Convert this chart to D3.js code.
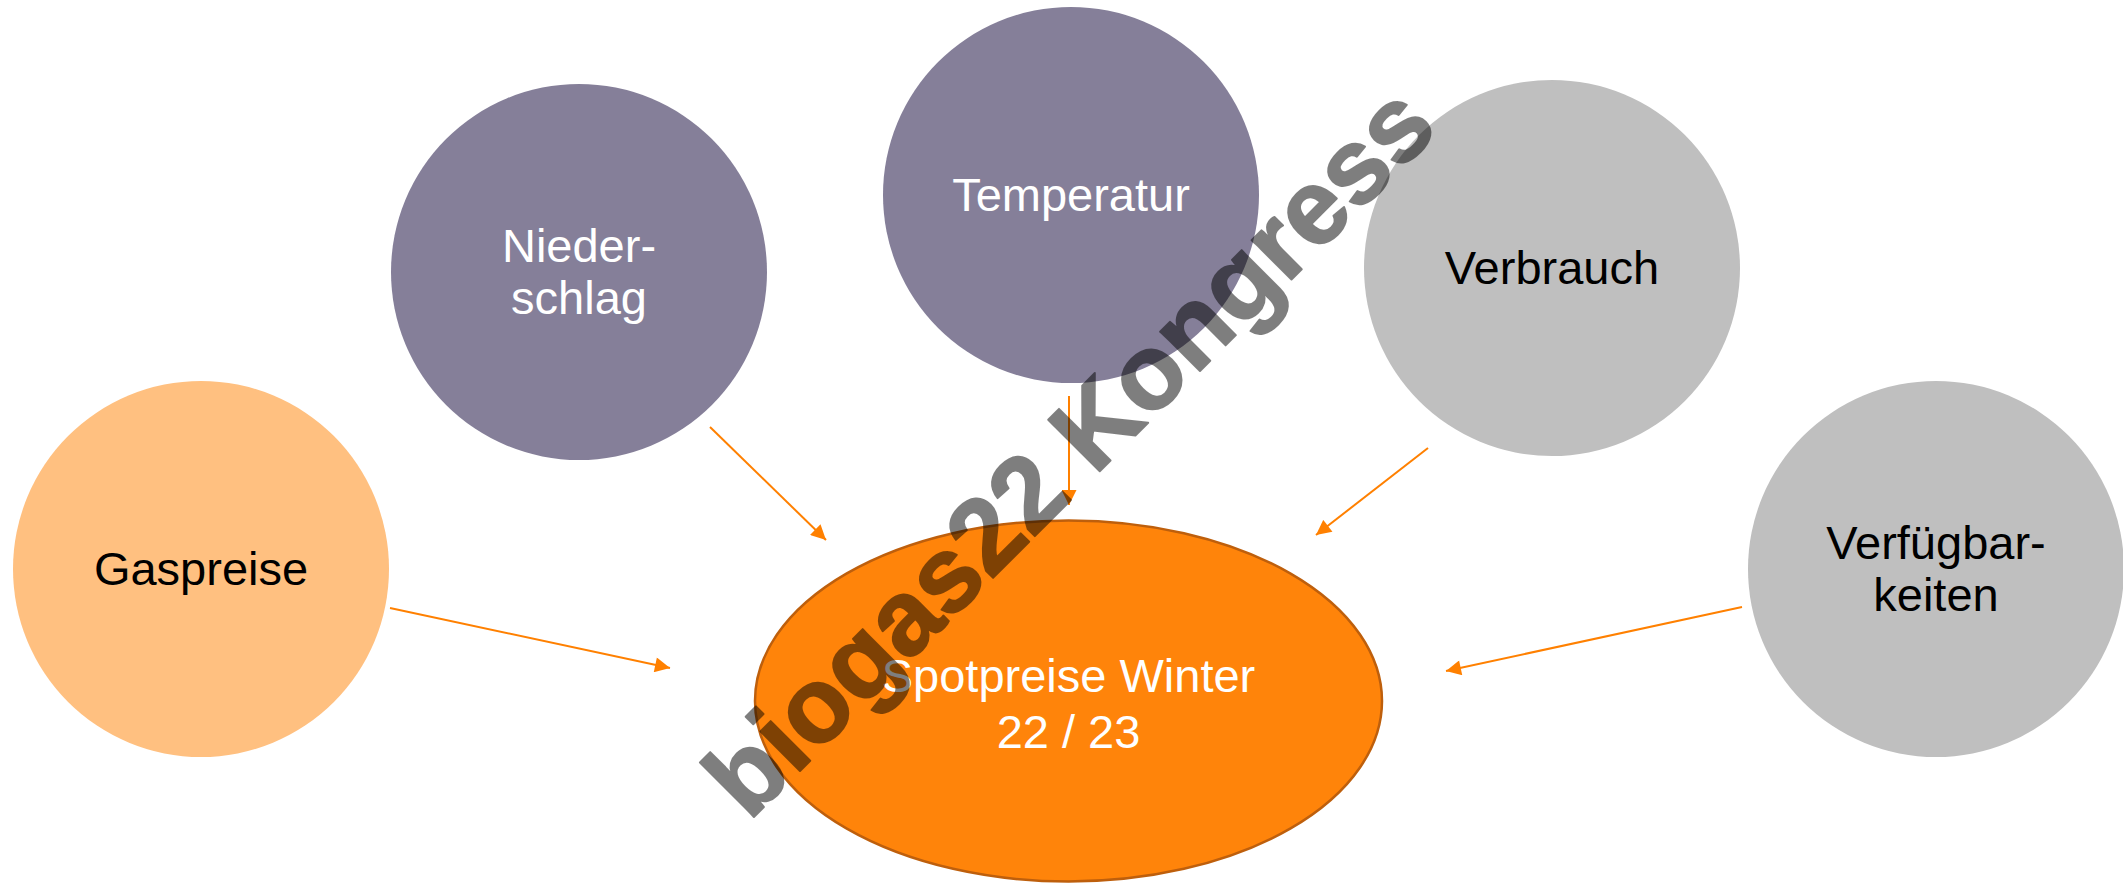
<!DOCTYPE html>
<html>
<head>
<meta charset="utf-8">
<script src="https://cdn.jsdelivr.net/npm/d3@7"></script>
<style>
  html, body { margin: 0; padding: 0; background: #fff; }
  svg { display: block; }
  text { font-family: "Liberation Sans", Arial, sans-serif; }
</style>
</head>
<body>
<svg id="chart" width="2123" height="883"></svg>
<script>
// content of the diagram
var factors = ["Gaspreise", "Nieder-\nschlag", "Temperatur", "Verbrauch", "Verfügbar-\nkeiten"];
var factorGroups = ["gas", "weather", "weather", "demand", "demand"];
var targetLabel = ["Spotpreise Winter", "22 / 23"];
var watermark = "biogas22 Kongress";

// layout (pixel positions)
var layout = {
  "Gaspreise":        {cx: 201,  cy: 569, ax1: 390,  ay1: 608, ax2: 670,  ay2: 668},
  "Nieder-\nschlag":  {cx: 579,  cy: 272, ax1: 710,  ay1: 427, ax2: 826,  ay2: 540},
  "Temperatur":       {cx: 1071, cy: 195, ax1: 1069, ay1: 396, ax2: 1069, ay2: 505},
  "Verbrauch":        {cx: 1552, cy: 268, ax1: 1428, ay1: 448, ax2: 1316, ay2: 535},
  "Verfügbar-\nkeiten": {cx: 1936, cy: 569, ax1: 1742, ay1: 607, ax2: 1446, ay2: 671}
}
var target = {cx: 1068.5, cy: 701, rx: 313.5, ry: 180.5}
var radius = 188

var fill = d3.scaleOrdinal()
  .domain(["gas", "weather", "demand"])
  .range(["#FFC080", "#857F99", "#BFBFBF"])
var ink = d3.scaleOrdinal()
  .domain(["gas", "weather", "demand"])
  .range(["#000000", "#ffffff", "#000000"])

var svg = d3.select("#chart")

svg.append("defs").append("marker")
    .attr("id", "head")
    .attr("viewBox", "0 0 16 16")
    .attr("refX", 16)
    .attr("refY", 8)
    .attr("markerWidth", 16)
    .attr("markerHeight", 15)
    .attr("markerUnits", "userSpaceOnUse")
    .attr("orient", "auto")
  .append("path")
    .attr("d", "M0,0L16,8L0,16Z")
    .attr("fill", "#FF8000")

var nodes = factors.map(function(f, i) {
  return {label: f, group: factorGroups[i], pos: layout[f]}
})

// circles
var g = svg.append("g")
g.selectAll("circle")
  .data(nodes)
  .enter().append("circle")
    .attr("cx", function(d) { return d.pos.cx })
    .attr("cy", function(d) { return d.pos.cy })
    .attr("r", radius)
    .attr("fill", function(d) { return fill(d.group) })

// central ellipse
svg.append("ellipse")
  .attr("cx", target.cx)
  .attr("cy", target.cy)
  .attr("rx", target.rx)
  .attr("ry", target.ry)
  .attr("fill", "#FF840A")
  .attr("stroke", "#BE5F0C")
  .attr("stroke-width", 2.5)

// arrows
svg.append("g").selectAll("line")
  .data(nodes)
  .enter().append("line")
    .attr("x1", function(d) { return d.pos.ax1 })
    .attr("y1", function(d) { return d.pos.ay1 })
    .attr("x2", function(d) { return d.pos.ax2 })
    .attr("y2", function(d) { return d.pos.ay2 })
    .attr("stroke", "#FF8000")
    .attr("stroke-width", 2)
    .attr("marker-end", "url(#head)")

function multiline(sel, lines, cx, cy, lh, off) {
  var first = cy + off - (lines.length - 1) * lh / 2
  lines.forEach(function(l, i) {
    sel.append("tspan")
      .attr("x", cx)
      .attr("y", first + i * lh)
      .text(l)
  })
}

// labels
g.selectAll("text")
  .data(nodes)
  .enter().append("text")
    .attr("text-anchor", "middle")
    .attr("font-size", 47)
    .attr("fill", function(d) { return ink(d.group) })
    .each(function(d) {
      multiline(d3.select(this), d.label.split("\n"), d.pos.cx, d.pos.cy, 52, 16)
    })

var tt = svg.append("text")
  .attr("text-anchor", "middle")
  .attr("font-size", 47)
  .attr("fill", "#fff")
multiline(tt, targetLabel, target.cx, target.cy, 56, 19)

// watermark (half transparent black over everything)
svg.append("g")
  .attr("opacity", 0.5)
  .append("text")
    .attr("transform", "translate(749,822) rotate(-45)")
    .attr("font-size", 106)
    .attr("font-weight", "bold")
    .attr("fill", "#000")
    .attr("stroke", "#000")
    .attr("stroke-width", 2)
    .attr("stroke-linejoin", "round")
    .text(watermark)
</script>
</body>
</html>
